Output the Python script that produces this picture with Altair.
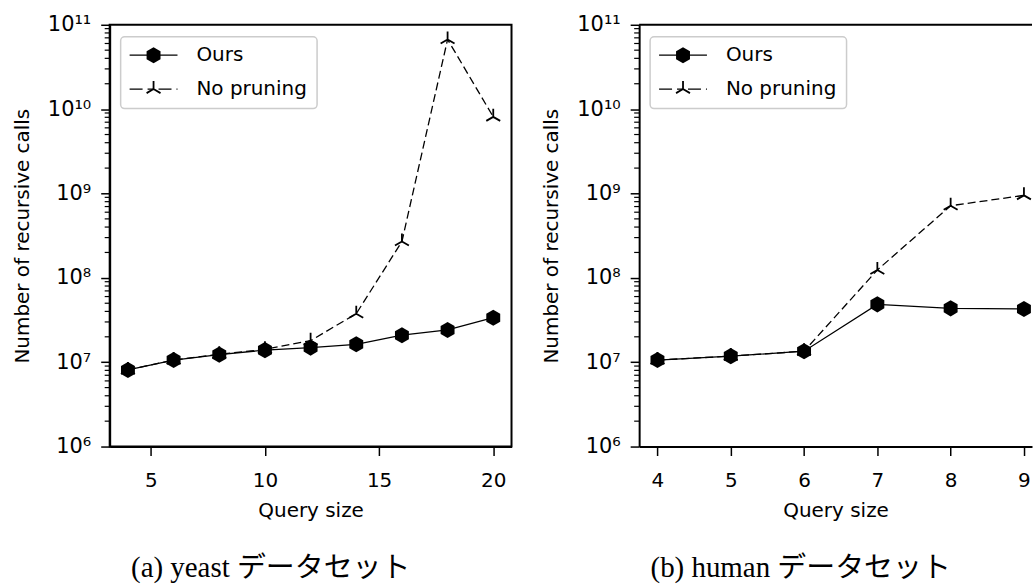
import altair as alt
import pandas as pd

# ---- data ----
yeast_sizes = [4, 6, 8, 10, 12, 14, 16, 18, 20]
yeast_ours = [8.1e6, 1.06e7, 1.23e7, 1.39e7, 1.49e7, 1.63e7, 2.09e7, 2.41e7, 3.37e7]
yeast_no_pruning = [8.1e6, 1.06e7, 1.24e7, 1.42e7, 1.8e7, 3.76e7, 2.7e8, 6.7e10, 8.1e9]

human_sizes = [4, 5, 6, 7, 8, 9]
human_ours = [1.06e7, 1.18e7, 1.35e7, 4.85e7, 4.35e7, 4.27e7]
human_no_pruning = [1.06e7, 1.18e7, 1.35e7, 1.24e8, 7.16e8, 9.5e8]

series_names = ["Ours", "No pruning"]
y_major = [1e6, 1e7, 1e8, 1e9, 1e10, 1e11]
y_minor = [m * 10 ** e for e in range(6, 11) for m in range(2, 10)]
yeast_ticks = [5, 10, 15, 20]
human_ticks = [4, 5, 6, 7, 8, 9]
captions = ["(a) yeast データセット", "(b) human データセット"]
x_title = "Query size"
y_title = "Number of recursive calls"

# ---- styling ----
HEX = "M0,-1L0.866,-0.5L0.866,0.5L0,1L-0.866,0.5L-0.866,-0.5Z"
TRI = "M0,0L0,-1M0,0L-0.866,0.5M0,0L0.866,0.5"
SANS = "DejaVu Sans"
CAPTION_FONT = "Liberation Serif, Noto Sans CJK JP"
FS = 20
PLOT_H = 423

label_expr = (
    "round(log(datum.value)/LN10) == 6 ? '10⁶' : "
    "round(log(datum.value)/LN10) == 7 ? '10⁷' : "
    "round(log(datum.value)/LN10) == 8 ? '10⁸' : "
    "round(log(datum.value)/LN10) == 9 ? '10⁹' : "
    "round(log(datum.value)/LN10) == 10 ? '10¹⁰' : '10¹¹'"
)


def panel(sizes, ours, nop, xdomain, xticks, width, caption, cap_dx, clip, full_frame):
    df = pd.DataFrame({
        "size": sizes * 2,
        "calls": ours + nop,
        "series": [series_names[0]] * len(sizes) + [series_names[1]] * len(sizes),
    })
    xs = alt.Scale(domain=xdomain, nice=False, zero=False)
    ys = alt.Scale(type="log", domain=[1e6, 1e11], nice=False)
    x_enc = alt.X("size:Q", scale=xs, axis=alt.Axis(
        values=xticks, title=x_title, grid=False, tickSize=9, tickWidth=1.5,
        tickColor="black", domainColor="black", domainWidth=2,
        labelFontSize=FS, labelFont=SANS, labelColor="black", labelPadding=15,
        labelFlush=False, titleFont=SANS, titleFontSize=FS, titleFontWeight="normal",
        titleColor="black", titlePadding=10))
    y_enc = alt.Y("calls:Q", scale=ys, axis=alt.Axis(
        values=y_major, labelExpr=label_expr, title=y_title, grid=False, tickSize=9,
        tickWidth=1.5, tickColor="black", domainColor="black", domainWidth=2,
        labelFontSize=21, labelFont=SANS, labelColor="black", labelPadding=10,
        titleFont=SANS, titleFontSize=FS, titleFontWeight="normal",
        titleColor="black", titlePadding=15))

    base = alt.Chart(df).encode(x=x_enc, y=y_enc)
    nop_f = alt.datum.series == series_names[1]
    ours_f = alt.datum.series == series_names[0]

    nop_line = base.transform_filter(nop_f).mark_line(
        color="black", strokeWidth=1.3, strokeDash=[8, 4], clip=clip)
    nop_pts = base.transform_filter(nop_f).mark_point(
        shape=TRI, filled=False, size=260, color="black", strokeWidth=1.8,
        opacity=1, clip=clip)
    ours_line = base.transform_filter(ours_f).mark_line(
        color="black", strokeWidth=1.3, clip=clip)
    ours_pts = base.transform_filter(ours_f).mark_point(
        shape=HEX, filled=True, size=260, color="black", opacity=1, clip=clip)

    minor = alt.Chart(pd.DataFrame({"calls": y_minor})).mark_rule(
        color="black", strokeWidth=1.2).encode(
        y=alt.Y("calls:Q", scale=ys),
        x=alt.value(-5), x2=alt.value(0))

    one = alt.Data(values=[{"k": 0}])
    box = alt.Chart(one).mark_rect(
        fill="white", fillOpacity=0.8, stroke="#cccccc", strokeWidth=1.5,
        cornerRadius=4).encode(
        x=alt.value(11), x2=alt.value(208), y=alt.value(12), y2=alt.value(84))
    r1 = 30.5
    r2 = 64.5
    leg_line1 = alt.Chart(one).mark_rule(color="black", strokeWidth=1.3).encode(
        x=alt.value(20), x2=alt.value(68), y=alt.value(r1))
    leg_pt1 = alt.Chart(one).mark_point(
        shape=HEX, filled=True, size=260, color="black", opacity=1).encode(
        x=alt.value(44), y=alt.value(r1))
    leg_txt1 = alt.Chart(one).mark_text(
        text=series_names[0], font=SANS, fontSize=FS, align="left",
        baseline="middle", color="black").encode(x=alt.value(87), y=alt.value(r1))
    leg_line2 = alt.Chart(one).mark_rule(
        color="black", strokeWidth=1.3, strokeDash=[13, 5, 6, 5]).encode(
        x=alt.value(20), x2=alt.value(68), y=alt.value(r2))
    leg_pt2 = alt.Chart(one).mark_point(
        shape=TRI, filled=False, size=260, color="black", strokeWidth=1.8,
        opacity=1).encode(x=alt.value(44), y=alt.value(r2))
    leg_txt2 = alt.Chart(one).mark_text(
        text=series_names[1], font=SANS, fontSize=FS, align="left",
        baseline="middle", color="black").encode(x=alt.value(87), y=alt.value(r2))

    layers = [nop_line, nop_pts, ours_line, ours_pts, minor,
              box, leg_line1, leg_pt1, leg_txt1, leg_line2, leg_pt2, leg_txt2]
    if not full_frame:
        top = alt.Chart(one).mark_rule(color="black", strokeWidth=2).encode(
            x=alt.value(0), x2=alt.value(width), y=alt.value(0))
        layers.append(top)

    view = (alt.ViewBackground(stroke="black", strokeWidth=2) if full_frame
            else alt.ViewBackground(strokeWidth=0, strokeOpacity=0))
    return alt.layer(*layers).properties(
        width=width, height=PLOT_H, view=view,
        title=alt.TitleParams(
            text=caption, orient="bottom", anchor="middle", font=CAPTION_FONT,
            fontSize=29, fontWeight="normal", color="black", offset=34, dx=cap_dx),
    )


left = panel(yeast_sizes, yeast_ours, yeast_no_pruning, [3.2, 20.8], yeast_ticks,
             403, captions[0], -40, False, True)
right = panel(human_sizes, human_ours, human_no_pruning, [3.75, 9.11], human_ticks,
              394, captions[1], -35, True, False)

chart = alt.hconcat(left, right, spacing=29).properties(
    padding={"left": 11, "top": 12, "right": 0, "bottom": 0},
    background="white",
).configure_view(strokeWidth=2)

chart.save("out.html", embed_options={"renderer": "svg", "actions": False})
